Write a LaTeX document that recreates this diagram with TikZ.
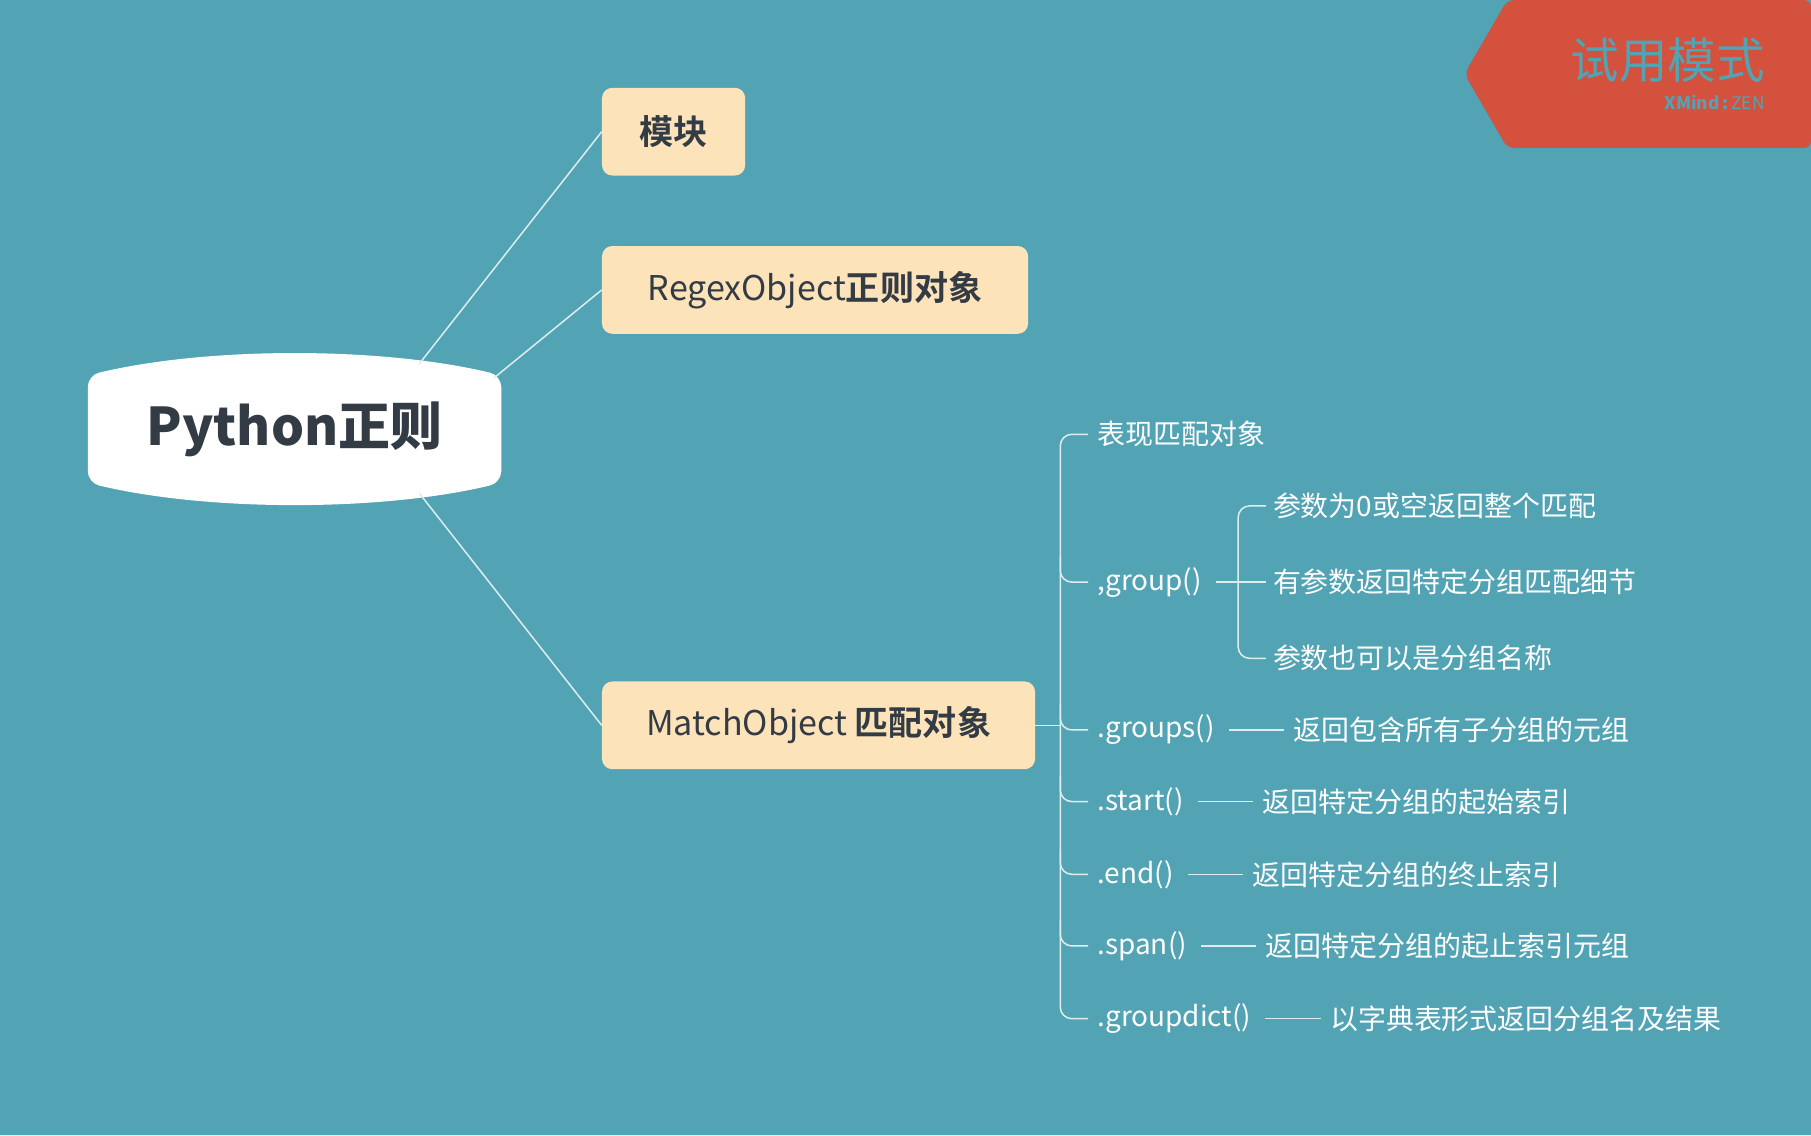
\documentclass[tikz,border=0pt]{standalone}
\usepackage{fontspec}
\setmainfont{Noto Sans CJK SC}
\newfontfamily\cjkb{Noto Sans CJK SC Bold}
\definecolor{bg}{HTML}{52A3B4}
\definecolor{box}{HTML}{FDE3BA}
\definecolor{ink}{HTML}{333B45}
\definecolor{wm}{HTML}{D4513D}
\tikzset{
  topic/.style={fill=box,rounded corners=9pt,text=ink,font=\fontsize{29.5}{32}\selectfont,anchor=west,inner xsep=0pt,inner ysep=0pt,minimum height=76pt},
  lbl/.style={text=white,font=\fontsize{24.2}{26}\selectfont,anchor=west,inner sep=2pt},
  ln/.style={draw=white!80!bg,line width=1.3pt},
}
\begin{document}
\begin{tikzpicture}[x=1pt,y=-1pt]
\fill[bg] (0,0) rectangle (1568,983);
\useasboundingbox (0,0) rectangle (1568,983);
% watermark
\fill[wm,rounded corners=6pt] (1305,0) -- (1568,0) -- (1568,128) -- (1305,128) -- (1268,64) -- cycle;
\node[anchor=east,text=bg,font=\fontsize{42}{46}\selectfont,inner sep=0] (wm1) at (1528,52) {试用模式};
\node[anchor=east,text=bg,font=\fontsize{15}{16}\selectfont\bfseries,inner sep=0] (wm2) at (1528,89) {XMind\,:\,\mdseries ZEN};
% central
\fill[white,rounded corners=10pt] (76,325) .. controls (180,300) and (330,300) .. (434,325) -- (434,418) .. controls (330,443) and (180,443) .. (76,418) -- cycle;
\node[text=ink,font=\fontsize{45}{48}\selectfont\bfseries,inner sep=0] (root) at (255,372) {Python正则};
\coordinate (r1) at (363,315);
\coordinate (r2) at (428,327);
\coordinate (r3) at (363,427);
% topics
\node[topic,minimum width=124pt] (t1) at (521,114) {\cjkb 模块};
\node[topic,minimum width=369pt] (t2) at (521,251) {RegexObject\cjkb 正则对象};
\node[topic,minimum width=375pt] (t3) at (521,628) {MatchObject \cjkb 匹配对象};
\draw[ln] (r1) -- (t1.west);
\draw[ln] (r2) -- (t2.west);
\draw[ln] (r3) -- (t3.west);
% tree
\coordinate (sp) at (918,628);
\draw[ln] (t3.east) -- (sp);
\draw[ln,rounded corners=10pt] (942,376) -- (918,376) -- (918,882) -- (942,882);
\foreach \y in {504,632,694,757,819}{\draw[ln,rounded corners=10pt] (918,\y-22) |- (942,\y);}
\node[lbl] (a0) at (948,376) {表现匹配对象};
\node[lbl] (a1) at (948,504) {,group()};
\node[lbl] (a2) at (948,632) {.groups()};
\node[lbl] (a3) at (948,694) {.start()};
\node[lbl] (a4) at (948,757) {.end()};
\node[lbl] (a5) at (948,819) {.span()};
\node[lbl] (a6) at (948,882) {.groupdict()};
\node[lbl] (b2) at ([xshift=64pt]a2.east) {返回包含所有子分组的元组};
\node[lbl] (b3) at ([xshift=64pt]a3.east) {返回特定分组的起始索引};
\node[lbl] (b4) at ([xshift=64pt]a4.east) {返回特定分组的终止索引};
\node[lbl] (b5) at ([xshift=64pt]a5.east) {返回特定分组的起止索引元组};
\node[lbl] (b6) at ([xshift=64pt]a6.east) {以字典表形式返回分组名及结果};
\foreach \i in {2,...,6}{\draw[ln] ([xshift=10pt]a\i.east) -- ([xshift=-6pt]b\i.west);}
% group sub
\coordinate (gs) at (1072,504);
\draw[ln] ([xshift=10pt]a1.east) -- (gs);
\draw[ln,rounded corners=10pt] (1096,438) -- (1072,438) -- (1072,570) -- (1096,570);
\draw[ln] (gs) -- (1096,504);
\node[lbl] (c1) at (1100,438) {参数为0或空返回整个匹配};
\node[lbl] (c2) at (1100,504) {有参数返回特定分组匹配细节};
\node[lbl] (c3) at (1100,570) {参数也可以是分组名称};
\end{tikzpicture}
\end{document}
